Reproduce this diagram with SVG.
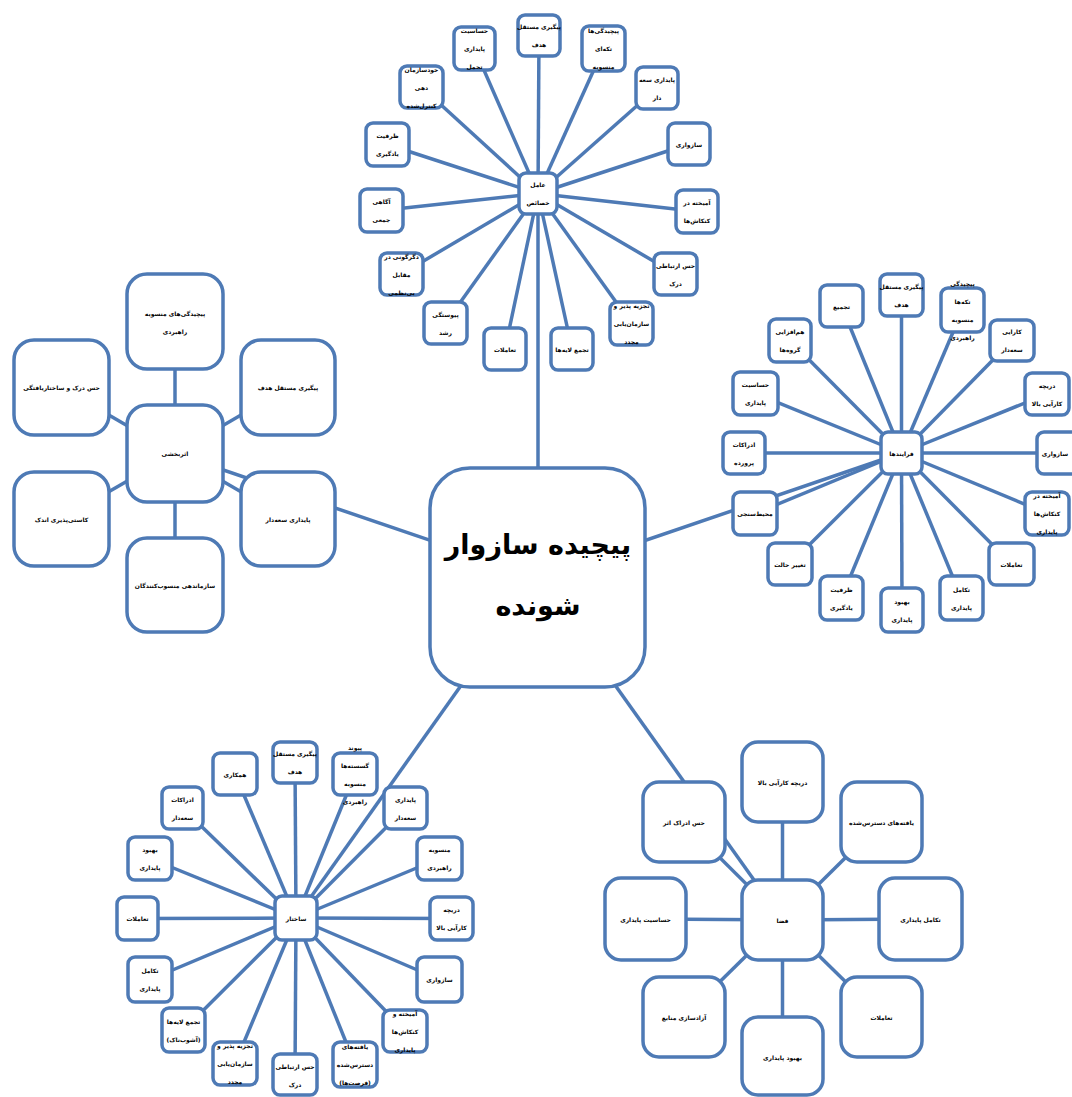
<svg xmlns="http://www.w3.org/2000/svg" width="1072" height="1097" viewBox="0 0 1072 1097">
<style>
.c line{stroke:#4e7ab5;stroke-width:3.5;fill:none}
.s rect{fill:#fff;stroke:#4e7ab5;stroke-width:3.5}
.b rect{fill:#fff;stroke:#4e7ab5;stroke-width:3.5}
text{font-family:"DejaVu Sans",sans-serif;font-weight:bold;font-size:6px;fill:#000;text-anchor:middle}
.m text{font-size:27px}
</style>
<rect width="1072" height="1097" fill="#fff"/>
<g id="connectors" class="c">
<!-- hub to cluster centres -->
<line x1="538" y1="577" x2="538" y2="193"/>
<line x1="538" y1="577" x2="901.5" y2="453"/>
<line x1="538" y1="577" x2="175" y2="453.5"/>
<line x1="538" y1="577" x2="296" y2="918"/>
<line x1="538" y1="577" x2="782.5" y2="920"/>
<!-- top cluster spokes -->
<line x1="538" y1="193.5" x2="539" y2="35.5"/>
<line x1="538" y1="193.5" x2="603.5" y2="48.5"/>
<line x1="538" y1="193.5" x2="657" y2="88"/>
<line x1="538" y1="193.5" x2="689" y2="144"/>
<line x1="538" y1="193.5" x2="697" y2="211.5"/>
<line x1="538" y1="193.5" x2="675.5" y2="274"/>
<line x1="538" y1="193.5" x2="631.5" y2="323.5"/>
<line x1="538" y1="193.5" x2="572" y2="349"/>
<line x1="538" y1="193.5" x2="505" y2="349"/>
<line x1="538" y1="193.5" x2="445.5" y2="323"/>
<line x1="538" y1="193.5" x2="401.5" y2="274"/>
<line x1="538" y1="193.5" x2="381.5" y2="210.5"/>
<line x1="538" y1="193.5" x2="387.5" y2="144.5"/>
<line x1="538" y1="193.5" x2="421.5" y2="87"/>
<line x1="538" y1="193.5" x2="474.5" y2="48.5"/>
<!-- right cluster spokes -->
<line x1="901.5" y1="453" x2="901.5" y2="295"/>
<line x1="901.5" y1="453" x2="962.5" y2="310"/>
<line x1="901.5" y1="453" x2="1012" y2="340.5"/>
<line x1="901.5" y1="453" x2="1047" y2="394"/>
<line x1="901.5" y1="453" x2="1059" y2="453"/>
<line x1="901.5" y1="453" x2="1047" y2="513.5"/>
<line x1="901.5" y1="453" x2="1011.5" y2="564"/>
<line x1="901.5" y1="453" x2="961.5" y2="598"/>
<line x1="901.5" y1="453" x2="902" y2="610"/>
<line x1="901.5" y1="453" x2="841.5" y2="598"/>
<line x1="901.5" y1="453" x2="790" y2="564"/>
<line x1="901.5" y1="453" x2="755" y2="513.5"/>
<line x1="901.5" y1="453" x2="744" y2="453"/>
<line x1="901.5" y1="453" x2="755.5" y2="393.5"/>
<line x1="901.5" y1="453" x2="790" y2="340.5"/>
<line x1="901.5" y1="453" x2="841.5" y2="306"/>
<!-- left cluster spokes -->
<line x1="175" y1="453.5" x2="175" y2="321.5"/>
<line x1="175" y1="453.5" x2="288" y2="387.5"/>
<line x1="175" y1="453.5" x2="288" y2="519"/>
<line x1="175" y1="453.5" x2="175" y2="585"/>
<line x1="175" y1="453.5" x2="61.5" y2="519"/>
<line x1="175" y1="453.5" x2="61.5" y2="387.5"/>
<!-- bottom-left cluster spokes -->
<line x1="296" y1="918" x2="295" y2="762.5"/>
<line x1="296" y1="918" x2="355" y2="774"/>
<line x1="296" y1="918" x2="405.5" y2="808"/>
<line x1="296" y1="918" x2="439.5" y2="858.5"/>
<line x1="296" y1="918" x2="451.5" y2="918.5"/>
<line x1="296" y1="918" x2="439.5" y2="979.5"/>
<line x1="296" y1="918" x2="405" y2="1031"/>
<line x1="296" y1="918" x2="355" y2="1064.5"/>
<line x1="296" y1="918" x2="295" y2="1075.5"/>
<line x1="296" y1="918" x2="235" y2="1063.5"/>
<line x1="296" y1="918" x2="183.5" y2="1030"/>
<line x1="296" y1="918" x2="150" y2="979.5"/>
<line x1="296" y1="918" x2="137.5" y2="918.5"/>
<line x1="296" y1="918" x2="150" y2="858.5"/>
<line x1="296" y1="918" x2="182.5" y2="808"/>
<line x1="296" y1="918" x2="235" y2="774"/>
<!-- bottom-right cluster spokes -->
<line x1="782.5" y1="920" x2="782.5" y2="782"/>
<line x1="782.5" y1="920" x2="881.5" y2="822"/>
<line x1="782.5" y1="920" x2="920.5" y2="919"/>
<line x1="782.5" y1="920" x2="881.5" y2="1017"/>
<line x1="782.5" y1="920" x2="782.5" y2="1057"/>
<line x1="782.5" y1="920" x2="684" y2="1017"/>
<line x1="782.5" y1="920" x2="645.5" y2="919"/>
<line x1="782.5" y1="920" x2="684" y2="822"/>
</g>

<!-- central hub -->
<g id="hub" class="b m">
<rect x="430" y="468" width="215" height="219" rx="40"/>
<text direction="rtl"><tspan x="538" y="554">پیچیده سازوار</tspan><tspan x="538" y="615">شونده</tspan></text>
</g>

<!-- top cluster -->
<g id="t0" class="s"><rect x="519" y="173" width="38" height="41" rx="7"/><text direction="rtl"><tspan x="538" y="187">عامل</tspan><tspan x="538" y="205">خصائص</tspan></text></g>
<g id="t1" class="s"><rect x="518" y="15" width="42" height="41" rx="7"/><text direction="rtl"><tspan x="539" y="29">پیگیری مستقل</tspan><tspan x="539" y="47">هدف</tspan></text></g>
<g id="t2" class="s"><rect x="582" y="26" width="43" height="45" rx="7"/><text direction="rtl"><tspan x="603.5" y="33">پیچیدگی‌ها</tspan><tspan x="603.5" y="51">تکه‌ای</tspan><tspan x="603.5" y="69">منسوبه</tspan></text></g>
<g id="t3" class="s"><rect x="636" y="67" width="42" height="42" rx="7"/><text direction="rtl"><tspan x="657" y="81.5">پایداری سعه</tspan><tspan x="657" y="99.5">دار</tspan></text></g>
<g id="t4" class="s"><rect x="668" y="123" width="42" height="42" rx="7"/><text direction="rtl"><tspan x="689" y="146.5">سازواری</tspan></text></g>
<g id="t5" class="s"><rect x="676" y="190" width="42" height="43" rx="7"/><text direction="rtl"><tspan x="697" y="205">آمیخته در</tspan><tspan x="697" y="223">کنکاش‌ها</tspan></text></g>
<g id="t6" class="s"><rect x="654" y="253" width="43" height="42" rx="7"/><text direction="rtl"><tspan x="675.5" y="267.5">حس ارتباطی</tspan><tspan x="675.5" y="285.5">درک</tspan></text></g>
<g id="t7" class="s"><rect x="610" y="302" width="43" height="43" rx="7"/><text direction="rtl"><tspan x="631.5" y="308">تجزیه پذیر و</tspan><tspan x="631.5" y="326">سازمان‌یابی</tspan><tspan x="631.5" y="344">مجدد</tspan></text></g>
<g id="t8" class="s"><rect x="551" y="328" width="42" height="42" rx="7"/><text direction="rtl"><tspan x="572" y="351.5">تجمع لایه‌ها</tspan></text></g>
<g id="t9" class="s"><rect x="484" y="328" width="42" height="42" rx="7"/><text direction="rtl"><tspan x="505" y="351.5">تعاملات</tspan></text></g>
<g id="t10" class="s"><rect x="424" y="302" width="43" height="42" rx="7"/><text direction="rtl"><tspan x="445.5" y="316.5">پیوستگی</tspan><tspan x="445.5" y="334.5">رشد</tspan></text></g>
<g id="t11" class="s"><rect x="380" y="253" width="43" height="42" rx="7"/><text direction="rtl"><tspan x="401.5" y="258.5">دگرگونی در</tspan><tspan x="401.5" y="276.5">مقابل</tspan><tspan x="401.5" y="294.5">بی‌نظمی</tspan></text></g>
<g id="t12" class="s"><rect x="360" y="189" width="43" height="43" rx="7"/><text direction="rtl"><tspan x="381.5" y="204">آگاهی</tspan><tspan x="381.5" y="222">جمعی</tspan></text></g>
<g id="t13" class="s"><rect x="366" y="123" width="43" height="43" rx="7"/><text direction="rtl"><tspan x="387.5" y="138">ظرفیت</tspan><tspan x="387.5" y="156">یادگیری</tspan></text></g>
<g id="t14" class="s"><rect x="400" y="66" width="43" height="42" rx="7"/><text direction="rtl"><tspan x="421.5" y="71.5">خودسازمان</tspan><tspan x="421.5" y="89.5">دهی</tspan><tspan x="421.5" y="107.5">کنترل‌شده</tspan></text></g>
<g id="t15" class="s"><rect x="454" y="27" width="41" height="43" rx="7"/><text direction="rtl"><tspan x="474.5" y="33">حساسیت</tspan><tspan x="474.5" y="51">پایداری</tspan><tspan x="474.5" y="69">تحمل</tspan></text></g>

<!-- right cluster -->
<g id="r0" class="s"><rect x="881" y="432" width="41" height="42" rx="7"/><text direction="rtl"><tspan x="901.5" y="455.5">فرایندها</tspan></text></g>
<g id="r1" class="s"><rect x="880" y="274" width="43" height="42" rx="7"/><text direction="rtl"><tspan x="901.5" y="288.5">پیگیری مستقل</tspan><tspan x="901.5" y="306.5">هدف</tspan></text></g>
<g id="r2" class="s"><rect x="941" y="288" width="43" height="44" rx="7"/><text direction="rtl"><tspan x="962.5" y="285.5">پیچیدگی</tspan><tspan x="962.5" y="303.5">تکه‌ها</tspan><tspan x="962.5" y="321.5">منسوبه</tspan><tspan x="962.5" y="339.5">راهبردی</tspan></text></g>
<g id="r3" class="s"><rect x="990" y="320" width="44" height="41" rx="7"/><text direction="rtl"><tspan x="1012" y="334">کارایی</tspan><tspan x="1012" y="352">سعه‌دار</tspan></text></g>
<g id="r4" class="s"><rect x="1025" y="373" width="44" height="42" rx="7"/><text direction="rtl"><tspan x="1047" y="387.5">دریچه</tspan><tspan x="1047" y="405.5">کارآیی بالا</tspan></text></g>
<g id="r5" class="s"><rect x="1037" y="432" width="44" height="42" rx="7"/><text direction="rtl"><tspan x="1055" y="455.5">سازواری</tspan></text></g>
<g id="r6" class="s"><rect x="1025" y="492" width="44" height="43" rx="7"/><text direction="rtl"><tspan x="1047" y="498">آمیخته در</tspan><tspan x="1047" y="516">کنکاش‌ها</tspan><tspan x="1047" y="534">پایداری</tspan></text></g>
<g id="r7" class="s"><rect x="989" y="543" width="45" height="42" rx="7"/><text direction="rtl"><tspan x="1011.5" y="566.5">تعاملات</tspan></text></g>
<g id="r8" class="s"><rect x="940" y="576" width="43" height="44" rx="7"/><text direction="rtl"><tspan x="961.5" y="591.5">تکامل</tspan><tspan x="961.5" y="609.5">پایداری</tspan></text></g>
<g id="r9" class="s"><rect x="881" y="588" width="42" height="44" rx="7"/><text direction="rtl"><tspan x="902" y="603.5">بهبود</tspan><tspan x="902" y="621.5">پایداری</tspan></text></g>
<g id="r10" class="s"><rect x="820" y="576" width="43" height="44" rx="7"/><text direction="rtl"><tspan x="841.5" y="591.5">ظرفیت</tspan><tspan x="841.5" y="609.5">یادگیری</tspan></text></g>
<g id="r11" class="s"><rect x="768" y="543" width="44" height="42" rx="7"/><text direction="rtl"><tspan x="790" y="566.5">تغییر حالت</tspan></text></g>
<g id="r12" class="s"><rect x="733" y="492" width="44" height="43" rx="7"/><text direction="rtl"><tspan x="755" y="516">محیط‌سنجی</tspan></text></g>
<g id="r13" class="s"><rect x="723" y="432" width="42" height="42" rx="7"/><text direction="rtl"><tspan x="744" y="446.5">ادراکات</tspan><tspan x="744" y="464.5">پرورده</tspan></text></g>
<g id="r14" class="s"><rect x="733" y="372" width="45" height="43" rx="7"/><text direction="rtl"><tspan x="755.5" y="387">حساسیت</tspan><tspan x="755.5" y="405">پایداری</tspan></text></g>
<g id="r15" class="s"><rect x="769" y="319" width="42" height="43" rx="7"/><text direction="rtl"><tspan x="790" y="334">هم‌افزایی</tspan><tspan x="790" y="352">گروه‌ها</tspan></text></g>
<g id="r16" class="s"><rect x="820" y="285" width="43" height="42" rx="7"/><text direction="rtl"><tspan x="841.5" y="308.5">تجمیع</tspan></text></g>

<!-- left cluster -->
<g id="l0" class="b"><rect x="127" y="405" width="96" height="97" rx="20"/><text direction="rtl"><tspan x="175" y="456">اثربخشی</tspan></text></g>
<g id="l1" class="b"><rect x="127" y="274" width="96" height="95" rx="20"/><text direction="rtl"><tspan x="175" y="315.5">پیچیدگی‌های منسوبه</tspan><tspan x="175" y="333.5">راهبردی</tspan></text></g>
<g id="l2" class="b"><rect x="241" y="340" width="94" height="95" rx="20"/><text direction="rtl"><tspan x="288" y="390">پیگیری مستقل هدف</tspan></text></g>
<g id="l3" class="b"><rect x="241" y="472" width="94" height="94" rx="20"/><text direction="rtl"><tspan x="288" y="521.5">پایداری سعه‌دار</tspan></text></g>
<g id="l4" class="b"><rect x="127" y="538" width="96" height="94" rx="20"/><text direction="rtl"><tspan x="175" y="587.5">سازماندهی منسوب‌کنندگان</tspan></text></g>
<g id="l5" class="b"><rect x="14" y="472" width="95" height="94" rx="20"/><text direction="rtl"><tspan x="61.5" y="521.5">کاستی‌پذیری اندک</tspan></text></g>
<g id="l6" class="b"><rect x="14" y="340" width="95" height="95" rx="20"/><text direction="rtl"><tspan x="61.5" y="390">حس درک و ساختاریافتگی</tspan></text></g>

<!-- bottom-left cluster -->
<g id="s0" class="s"><rect x="275" y="896" width="42" height="44" rx="7"/><text direction="rtl"><tspan x="296" y="920.5">ساختار</tspan></text></g>
<g id="s1" class="s"><rect x="273" y="742" width="44" height="41" rx="7"/><text direction="rtl"><tspan x="295" y="756">پیگیری مستقل</tspan><tspan x="295" y="774">هدف</tspan></text></g>
<g id="s2" class="s"><rect x="333" y="753" width="44" height="42" rx="7"/><text direction="rtl"><tspan x="355" y="749.5">پیوند</tspan><tspan x="355" y="767.5">گسسته‌ها</tspan><tspan x="355" y="785.5">منسوبه</tspan><tspan x="355" y="803.5">راهبردی</tspan></text></g>
<g id="s3" class="s"><rect x="384" y="787" width="43" height="42" rx="7"/><text direction="rtl"><tspan x="405.5" y="801.5">پایداری</tspan><tspan x="405.5" y="819.5">سعه‌دار</tspan></text></g>
<g id="s4" class="s"><rect x="417" y="837" width="45" height="43" rx="7"/><text direction="rtl"><tspan x="439.5" y="852">منسوبه</tspan><tspan x="439.5" y="870">راهبردی</tspan></text></g>
<g id="s5" class="s"><rect x="430" y="897" width="43" height="43" rx="7"/><text direction="rtl"><tspan x="451.5" y="912">دریچه</tspan><tspan x="451.5" y="930">کارآیی بالا</tspan></text></g>
<g id="s6" class="s"><rect x="417" y="957" width="45" height="45" rx="7"/><text direction="rtl"><tspan x="439.5" y="982">سازواری</tspan></text></g>
<g id="s7" class="s"><rect x="383" y="1010" width="44" height="42" rx="7"/><text direction="rtl"><tspan x="405" y="1015.5">آمیخته و</tspan><tspan x="405" y="1033.5">کنکاش‌ها</tspan><tspan x="405" y="1051.5">پایداری</tspan></text></g>
<g id="s8" class="s"><rect x="333" y="1042" width="44" height="45" rx="7"/><text direction="rtl"><tspan x="355" y="1049">یافته‌های</tspan><tspan x="355" y="1067">دسترس‌شده</tspan><tspan x="355" y="1085">(فرصت‌ها)</tspan></text></g>
<g id="s9" class="s"><rect x="273" y="1054" width="44" height="41" rx="7"/><text direction="rtl"><tspan x="295" y="1069">حس ارتباطی</tspan><tspan x="295" y="1087">درک</tspan></text></g>
<g id="s10" class="s"><rect x="213" y="1042" width="44" height="43" rx="7"/><text direction="rtl"><tspan x="235" y="1048">تجزیه پذیر و</tspan><tspan x="235" y="1066">سازمان‌یابی</tspan><tspan x="235" y="1084">مجدد</tspan></text></g>
<g id="s11" class="s"><rect x="162" y="1008" width="43" height="44" rx="7"/><text direction="rtl"><tspan x="183.5" y="1023.5">تجمع لایه‌ها</tspan><tspan x="183.5" y="1041.5">(آشوب‌ناک)</tspan></text></g>
<g id="s12" class="s"><rect x="128" y="957" width="44" height="45" rx="7"/><text direction="rtl"><tspan x="150" y="973">تکامل</tspan><tspan x="150" y="991">پایداری</tspan></text></g>
<g id="s13" class="s"><rect x="117" y="897" width="41" height="43" rx="7"/><text direction="rtl"><tspan x="137.5" y="921">تعاملات</tspan></text></g>
<g id="s14" class="s"><rect x="128" y="837" width="44" height="43" rx="7"/><text direction="rtl"><tspan x="150" y="852">بهبود</tspan><tspan x="150" y="870">پایداری</tspan></text></g>
<g id="s15" class="s"><rect x="162" y="787" width="41" height="42" rx="7"/><text direction="rtl"><tspan x="182.5" y="801.5">ادراکات</tspan><tspan x="182.5" y="819.5">سعه‌دار</tspan></text></g>
<g id="s16" class="s"><rect x="213" y="753" width="44" height="42" rx="7"/><text direction="rtl"><tspan x="235" y="776.5">همکاری</tspan></text></g>

<!-- bottom-right cluster -->
<g id="q0" class="b"><rect x="742" y="880" width="81" height="80" rx="16"/><text direction="rtl"><tspan x="782.5" y="922.5">فضا</tspan></text></g>
<g id="q1" class="b"><rect x="742" y="742" width="81" height="80" rx="16"/><text direction="rtl"><tspan x="782.5" y="784.5">دریچه کارآیی بالا</tspan></text></g>
<g id="q2" class="b"><rect x="841" y="782" width="81" height="80" rx="16"/><text direction="rtl"><tspan x="881.5" y="824.5">یافته‌های دسترس‌شده</tspan></text></g>
<g id="q3" class="b"><rect x="879" y="878" width="83" height="82" rx="16"/><text direction="rtl"><tspan x="920.5" y="921.5">تکامل پایداری</tspan></text></g>
<g id="q4" class="b"><rect x="841" y="977" width="81" height="80" rx="16"/><text direction="rtl"><tspan x="881.5" y="1019.5">تعاملات</tspan></text></g>
<g id="q5" class="b"><rect x="742" y="1017" width="81" height="78" rx="16"/><text direction="rtl"><tspan x="782.5" y="1059.5">بهبود پایداری</tspan></text></g>
<g id="q6" class="b"><rect x="643" y="977" width="82" height="80" rx="16"/><text direction="rtl"><tspan x="684" y="1019.5">آزادسازی منابع</tspan></text></g>
<g id="q7" class="b"><rect x="605" y="878" width="81" height="82" rx="16"/><text direction="rtl"><tspan x="645.5" y="921.5">حساسیت پایداری</tspan></text></g>
<g id="q8" class="b"><rect x="643" y="782" width="82" height="80" rx="16"/><text direction="rtl"><tspan x="684" y="824.5">حس ادراک اثر</tspan></text></g>
</svg>
